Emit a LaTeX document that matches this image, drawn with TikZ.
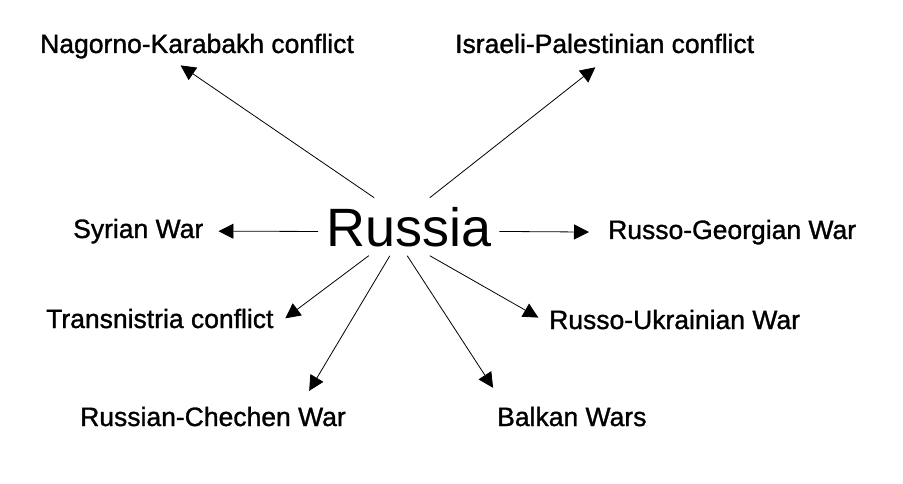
\documentclass[tikz,border=0pt]{standalone}
\usepackage{fontspec}
\setmainfont{Liberation Sans}
\newfontfamily\labelfont{Liberation Sans}[FakeBold=1.2]
\usepackage{tikz}
\usetikzlibrary{arrows.meta,positioning}

\begin{document}
\begin{tikzpicture}[x=1pt, y=-1pt, conflict/.style={inner sep=2pt, anchor=base west, font=\labelfont\fontsize{26.5}{30}\selectfont},
    link/.style={-{Triangle[length=15pt,width=15pt]}, line width=0.8pt}]
    \useasboundingbox (0,0) rectangle (903,484);
    \node[inner xsep=8pt, inner ysep=9pt, anchor=base west, font=\fontsize{54}{60}\selectfont] (russia) at (318,246) {Russia};

    \node[conflict] (nk) at (38,53) {Nagorno-Karabakh conflict};
    \node[conflict] (ip) at (453,53) {Israeli-Palestinian conflict};
    \node[conflict] (syria) at (71,238) {Syrian War};
    \node[conflict] (rg) at (606,239) {Russo-Georgian War};
    \node[conflict] (tc) at (44,328) {Transnistria conflict};
    \node[conflict] (ru) at (547,329) {Russo-Ukrainian War};
    \node[conflict] (rc) at (78,426) {Russian-Chechen War};
    \node[conflict] (bw) at (495,426) {Balkan Wars};

    \draw[link, shorten >=3pt] (russia.140) -- ([xshift=-19pt,yshift=-3pt]nk.south);
    \draw[link, shorten >=3pt] (russia.54) -- ([xshift=-7pt,yshift=-10pt]ip.south);
    \draw[link, shorten >=13pt] (russia.183) -- (syria.east);
    \draw[link, shorten >=17pt] (russia.357) -- (rg.west);
    \draw[link, shorten >=12pt] (russia.216) -- ([yshift=-7pt]tc.east);
    \draw[link, shorten >=10pt] (russia.306) -- ([yshift=-3pt]ru.west);
    \draw[link, shorten >=16pt] (russia.237) -- ([xshift=-47pt]rc.north east);
    \draw[link, shorten >=20pt] (russia.267) -- ([xshift=9pt]bw.north west);
\end{tikzpicture}
\end{document}
